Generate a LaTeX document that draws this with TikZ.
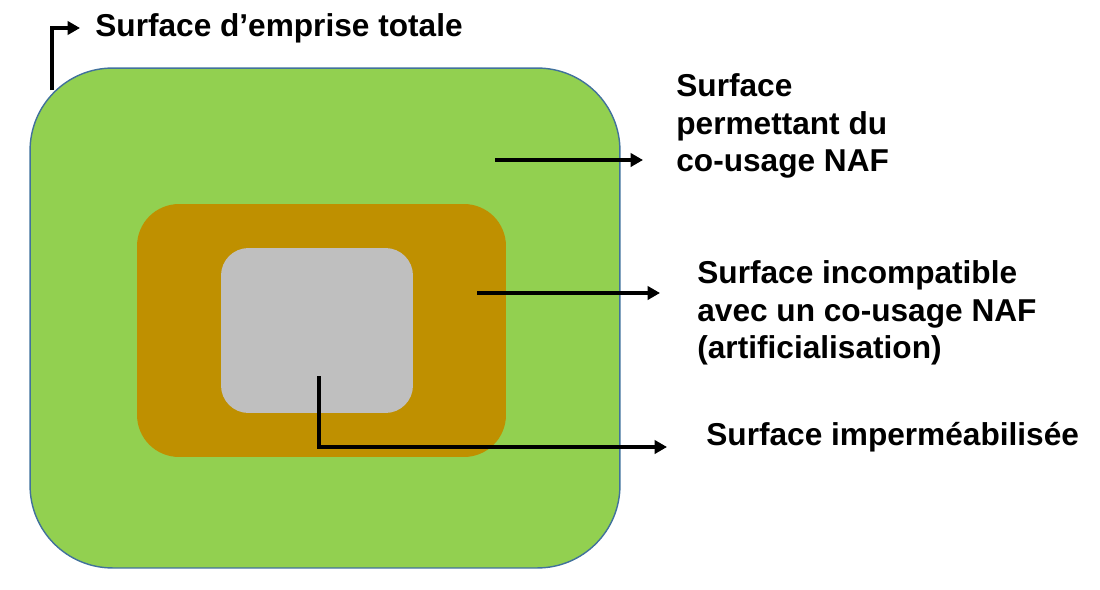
\documentclass[tikz,border=0pt]{standalone}
\usepackage{fontspec}
\setmainfont{Liberation Sans}
\usepackage{xcolor}
\usetikzlibrary{arrows.meta}
\definecolor{Vert}{HTML}{92D050}
\definecolor{Ocre}{HTML}{BF9000}
\definecolor{Gris}{HTML}{BFBFBF}
\definecolor{Bord}{HTML}{41719C}

\begin{document}
\begin{tikzpicture}[x=0.02cm, y=-0.02cm,
  zone/.style={inner sep=0pt, outer sep=0pt},
  lbl/.style={anchor=west, align=left, inner sep=0pt, font=\fontsize{18}{21.5}\selectfont\bfseries},
  fleche/.style={-{Triangle[length=7pt, width=7.5pt]}, line width=2.2pt}]%
\useasboundingbox (0,0) rectangle (1100,589);%
% surfaces
\node[zone, draw=Bord, line width=0.8pt, fill=Vert, rounded corners=1.65cm, minimum width=11.8cm, minimum height=10cm] (vert) at (325,318) {};%
\node[zone, fill=Ocre, rounded corners=0.84cm, minimum width=7.38cm, minimum height=5.06cm] (ocre) at (321.5,330.5) {};%
\node[zone, fill=Gris, rounded corners=0.55cm, minimum width=3.84cm, minimum height=3.3cm] (gris) at (317,330.5) {};%
% textes
\node[lbl] (totale) at (95,28) {Surface d’emprise totale};%
\node[lbl] (naf) at (676,126) {Surface\\permettant du\\co-usage NAF};%
\node[lbl] (artif) at (697,313) {Surface incompatible\\avec un co-usage NAF\\(artificialisation)};%
\node[lbl] (imper) at (706,437) {Surface imperméabilisée};%
% fleches
\coordinate (totdeb) at (52,90);%
\coordinate (totfin) at (80,28);%
\coordinate (nafdeb) at (495,160);%
\coordinate (naffin) at (643,160);%
\coordinate (artdeb) at (477,293);%
\coordinate (artfin) at (660,293);%
\coordinate (impdeb) at (319,376);%
\coordinate (impfin) at (667,447);%
\draw[fleche] (totdeb) |- (totfin);%
\draw[fleche] (nafdeb) -- (naffin);%
\draw[fleche] (artdeb) -- (artfin);%
\draw[fleche] (impdeb) |- (impfin);%
\end{tikzpicture}
\end{document}
